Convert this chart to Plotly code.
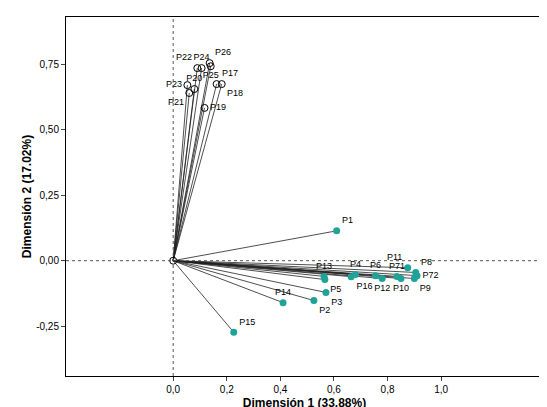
import plotly.graph_objects as go

# dimension 1 / dimension 2 loadings
open_names = ["P22", "P24", "P26", "P25", "P23", "P20", "P17", "P18", "P19", "P21"]
open_x = [0.09, 0.106, 0.136, 0.14, 0.053, 0.079, 0.162, 0.181, 0.117, 0.06]
open_y = [0.735, 0.735, 0.754, 0.742, 0.67, 0.655, 0.674, 0.674, 0.583, 0.64]
open_pos = ["top left", "top center", "top right", "bottom center", "middle left",
            "top center", "top right", "bottom right", "middle right", "bottom left"]

fill_names = ["P1", "P15", "P14", "P2", "P3", "P5", "P13", "P4", "P16", "P6",
              "P12", "P71", "P10", "P9", "P8", "P11", "P72"]
fill_x = [0.61, 0.226, 0.41, 0.525, 0.57, 0.566, 0.563, 0.68, 0.664, 0.755,
          0.78, 0.835, 0.85, 0.9, 0.905, 0.875, 0.91]
fill_y = [0.114, -0.273, -0.16, -0.152, -0.121, -0.072, -0.06, -0.053, -0.061, -0.057,
          -0.068, -0.06, -0.068, -0.068, -0.045, -0.027, -0.057]
fill_pos = ["top right", "top right", "top center", "bottom right", "bottom right",
            "bottom right", "top center", "top center", "bottom right", "top center",
            "bottom center", "top center", "bottom center", "bottom right", "top right",
            "top left", "middle right"]

lx, ly = [], []
for x, y in zip(open_x + fill_x, open_y + fill_y):
    lx += [0, x, None]
    ly += [0, y, None]

fig = go.Figure()
fig.add_trace(go.Scatter(x=lx, y=ly, mode="lines", line=dict(color="#222", width=0.8),
                         hoverinfo="skip"))
fig.add_trace(go.Scatter(x=open_x, y=open_y, mode="markers+text", text=open_names,
                         textposition=open_pos, textfont=dict(size=9, color="black"),
                         marker=dict(symbol="circle-open", size=7, color="black")))
fig.add_trace(go.Scatter(x=fill_x, y=fill_y, mode="markers+text", text=fill_names,
                         textposition=fill_pos, textfont=dict(size=9, color="black"),
                         marker=dict(size=7, color="#1fa398")))
fig.add_trace(go.Scatter(x=[0], y=[0], mode="markers",
                         marker=dict(symbol="circle-open", size=7, color="black")))

fig.add_shape(type="line", x0=0, x1=0, y0=-0.44, y1=0.93, line=dict(color="#555", width=1, dash="dot"))
fig.add_shape(type="line", x0=-0.4, x1=1.38, y0=0, y1=0, line=dict(color="#555", width=1, dash="dot"))

ticks_x = [0, 0.2, 0.4, 0.6, 0.8, 1.0]
ticks_y = [-0.25, 0, 0.25, 0.5, 0.75]
fig.update_layout(
    width=547, height=407, showlegend=False,
    plot_bgcolor="white", paper_bgcolor="white",
    margin=dict(l=58, r=12, t=8, b=37),
    font=dict(family="Arial, Liberation Sans", size=10, color="black"),
    xaxis=dict(range=[-0.4, 1.38], tickvals=ticks_x,
               ticktext=[f"{v:.1f}".replace(".", ",") for v in ticks_x],
               showgrid=False, zeroline=False, showline=True, mirror=True,
               linecolor="black", ticks="outside", ticklen=4,
               title=dict(text="<b>Dimensión 1 (33.88%)</b>", font=dict(size=12), standoff=4)),
    yaxis=dict(range=[-0.44, 0.93], tickvals=ticks_y,
               ticktext=[f"{v:.2f}".replace(".", ",") for v in ticks_y],
               showgrid=False, zeroline=False, showline=True, mirror=True,
               linecolor="black", ticks="outside", ticklen=4,
               title=dict(text="<b>Dimensión 2 (17.02%)</b>", font=dict(size=12), standoff=2)),
)
fig.write_html("out.html")
